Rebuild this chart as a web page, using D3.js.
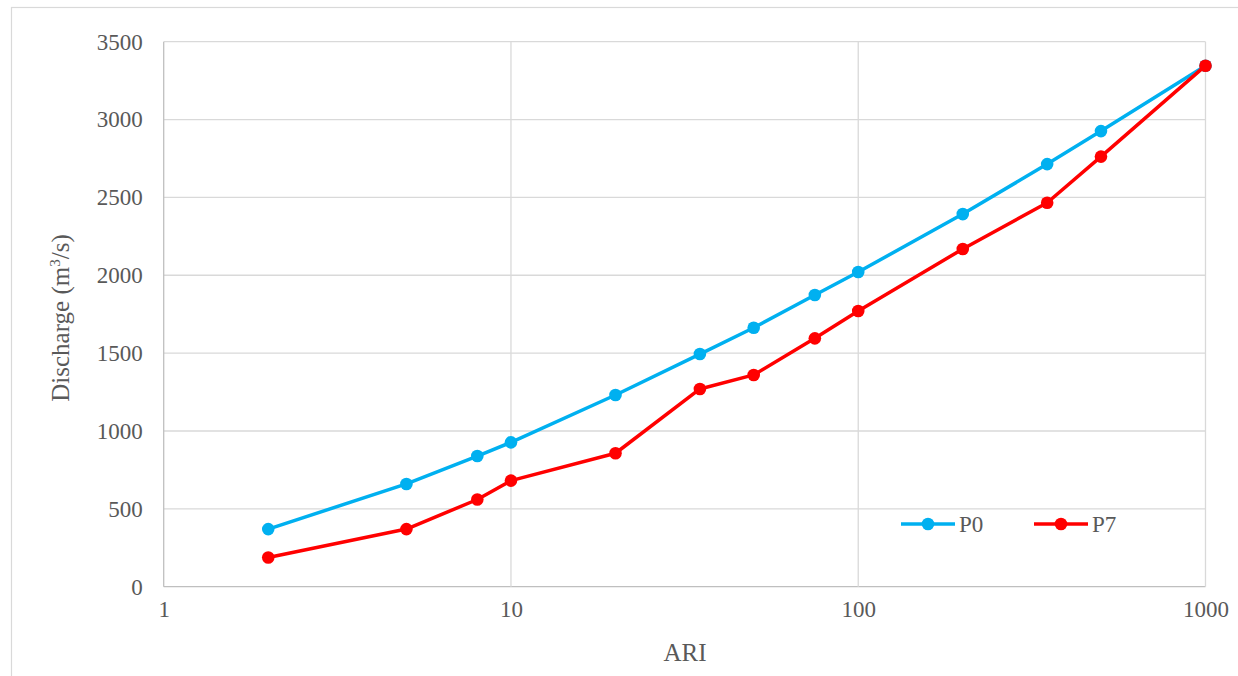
<!DOCTYPE html>
<html>
<head>
<meta charset="utf-8">
<script src="https://cdn.jsdelivr.net/npm/d3@7"></script>
</head>
<body style="margin:0;background:#fff">
<svg id="chart" width="1238" height="676" style="display:block"></svg>
<script>
const ari = [2, 5, 8, 10, 20, 35, 50, 75, 100, 200, 350, 500, 1000];
const p0 = [370, 660, 839, 927, 1231, 1494, 1663, 1873, 2021, 2393, 2714, 2926, 3346];
const p7 = [188, 370, 560, 681, 857, 1270, 1360, 1595, 1771, 2169, 2466, 2762, 3346];
const seriesNames = ["P0", "P7"];
const seriesColors = ["#00B0F0", "#FF0000"];
const xTicks = [1, 10, 100, 1000];
const yTicks = [0, 500, 1000, 1500, 2000, 2500, 3000, 3500];

const FONT = "'Liberation Serif', monospace";
const svg = d3.select("#chart");
const m = { left: 163.7, right: 1205.5, top: 41.7, bottom: 586.7 };

// outer chart border
svg.append("rect").attr("x", 11.5).attr("y", 7.5).attr("width", 1240).attr("height", 680)
  .attr("fill", "none").attr("stroke", "#d9d9d9").attr("stroke-width", 1.2);

const x = d3.scaleLog().domain([1, 1000]).range([m.left, m.right]);
const y = d3.scaleLinear().domain([0, 3500]).range([m.bottom, m.top]);

// horizontal gridlines
svg.append("g").selectAll("line").data(yTicks).join("line")
  .attr("x1", m.left).attr("x2", m.right)
  .attr("y1", d => y(d)).attr("y2", d => y(d))
  .attr("stroke", d => d === 0 ? "#bfbfbf" : "#d9d9d9").attr("stroke-width", 1.3);
// vertical gridlines
svg.append("g").selectAll("line").data(xTicks).join("line")
  .attr("y1", m.top).attr("y2", m.bottom)
  .attr("x1", d => x(d)).attr("x2", d => x(d))
  .attr("stroke", d => d === 1 ? "#bfbfbf" : "#d9d9d9").attr("stroke-width", 1.3);

// y axis labels
const yAxis = d3.axisLeft(y).tickValues(yTicks).tickSize(0).tickPadding(21).tickFormat(d3.format("d"));
const gy = svg.append("g").attr("transform", `translate(${m.left},0)`).call(yAxis);
gy.attr("font-family", FONT).attr("font-size", 23);
gy.select(".domain").remove();
gy.selectAll("text").attr("fill", "#595959").attr("font-family", FONT).attr("font-size", 23);

// x axis labels
const xAxis = d3.axisBottom(x).tickValues(xTicks).tickSize(0).tickPadding(14).tickFormat(d3.format("d"));
const gx = svg.append("g").attr("transform", `translate(0,${m.bottom})`).call(xAxis);
gx.attr("font-family", FONT).attr("font-size", 23);
gx.select(".domain").remove();
gx.selectAll("text").attr("fill", "#595959").attr("font-family", FONT).attr("font-size", 23);

// axis titles
svg.append("text").attr("x", 685).attr("y", 661).attr("text-anchor", "middle")
  .attr("font-family", FONT).attr("fill", "#595959").attr("font-size", 25).text("ARI");
const yt = svg.append("text").attr("transform", "translate(69,318) rotate(-90)")
  .attr("font-family", FONT).attr("text-anchor", "middle").attr("fill", "#595959").attr("font-size", 25);
yt.append("tspan").text("Discharge (m");
yt.append("tspan").attr("dy", -9).attr("font-size", 15).text("3");
yt.append("tspan").attr("dy", 9).text("/s)");

// series
const series = [p0, p7];
const line = d3.line().x(d => x(d[0])).y(d => y(d[1]));
series.forEach((vals, i) => {
  const pts = ari.map((a, j) => [a, vals[j]]);
  const g = svg.append("g");
  g.append("path").datum(pts).attr("d", line).attr("fill", "none")
    .attr("stroke", seriesColors[i]).attr("stroke-width", 3.5).attr("stroke-linejoin", "round");
  g.selectAll("circle").data(pts).join("circle")
    .attr("cx", d => x(d[0])).attr("cy", d => y(d[1])).attr("r", 6.3)
    .attr("fill", seriesColors[i]);
});

// legend
const legX = [901, 1034];
seriesNames.forEach((name, i) => {
  const g = svg.append("g").attr("transform", `translate(${legX[i]},524)`);
  g.append("line").attr("x1", 0).attr("x2", 54).attr("y1", 0).attr("y2", 0)
    .attr("stroke", seriesColors[i]).attr("stroke-width", 3.5);
  g.append("circle").attr("cx", 27).attr("cy", 0).attr("r", 6.3).attr("fill", seriesColors[i]);
  g.append("text").attr("x", 58).attr("y", 8).attr("fill", "#595959")
    .attr("font-family", FONT).attr("font-size", 23).text(name);
});
</script>
</body>
</html>
